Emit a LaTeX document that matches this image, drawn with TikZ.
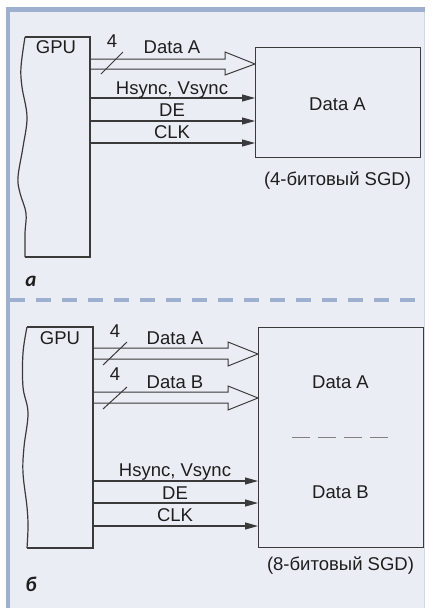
\documentclass[tikz,border=0pt]{standalone}
\usepackage{fontspec}
\setmainfont{Liberation Sans}
\newfontfamily\labfont{Carlito}
\usetikzlibrary{arrows.meta}
\definecolor{bg}{HTML}{EAEDF4}
\definecolor{framec}{HTML}{9DB0CF}
\definecolor{ink}{HTML}{3A3A3A}
\definecolor{txt}{HTML}{1E1E1E}
\tikzset{
  lbl/.style={font=\fontsize{18.5}{22}\selectfont, text=txt, inner sep=0pt, anchor=base},
  sgdbox/.style={draw=ink, line width=1.2pt, inner sep=0pt, anchor=north west},
  sig/.style={draw=ink, line width=1.1pt, -{Triangle[length=13pt,width=7pt]}},
  bus/.style={draw=ink, line width=1pt, line join=miter},
  slashline/.style={draw=ink, line width=1pt},
  gpubody/.style={draw=ink, line width=1.2pt, line join=miter},
  panellbl/.style={font=\labfont\bfseries\itshape\fontsize{21}{24}\selectfont, text=txt, anchor=base, inner sep=0pt},
  sepline/.style={draw=framec, line width=4.5pt, dash pattern=on 15pt off 11pt},
  innerdash/.style={draw=gray, line width=1pt, dash pattern=on 18pt off 8pt},
}
\begin{document}
\begin{tikzpicture}[x=1pt,y=-1pt]
\useasboundingbox (0,0) rectangle (432,608);
\fill[white] (0,0) rectangle (432,608);
\fill[bg] (6,7) rectangle (425,608);
\fill[framec] (6,7) rectangle (10,608);
\fill[framec] (6,7) rectangle (425,12);
\draw[framec!50, line width=1pt] (424.5,12) -- (424.5,608);

% ---------- panel a ----------
\coordinate (g1nw) at (25,37);
\coordinate (g1ne) at (90,37);
\coordinate (g1se) at (90,257);
\coordinate (g1sw) at (25,257);
\draw[gpubody] (g1nw) -- (g1ne) -- (g1se) -- (g1sw);
\draw[gpubody] plot[smooth, tension=0.6] coordinates {(25,257) (25,233) (26,213) (20,193) (18,177) (23,147) (27,117) (22,87) (21,67) (25,37)};
\node[lbl] (gpu1) at (56,53) {GPU};
\node[sgdbox, minimum width=165pt, minimum height=110pt] (sgd1) at (255,47) {};

\draw[bus] (g1ne |- 0,59) -- (225,59) -- (225,52) -- (sgd1.west |- 0,64) -- (225,75) -- (225,69) -- (g1ne |- 0,69);
\draw[slashline] (101,74) -- (123,52);
\node[lbl] (n1) at (112,47) {4};
\node[lbl] (da1) at (172,53) {Data A};

\draw[sig] (g1ne |- 0,98) -- (sgd1.west |- 0,98);
\draw[sig] (g1ne |- 0,121) -- (sgd1.west |- 0,121);
\draw[sig] (g1ne |- 0,143) -- (sgd1.west |- 0,143);
\node[lbl] (hs1) at (172,94) {Hsync, Vsync};
\node[lbl] (de1) at (172,116) {DE};
\node[lbl] (clk1) at (172,138) {CLK};

\node[lbl] (bda1) at (337.5,110) {Data A};
\node[lbl] (cap1) at (337.5,185) {(4-битовый SGD)};
\node[panellbl] (pa) at (31,286) {а};

% separator
\draw[sepline] (10,300) -- (425,300);

% ---------- panel b ----------
\coordinate (g2nw) at (27,327);
\coordinate (g2ne) at (93,327);
\coordinate (g2se) at (93,548);
\coordinate (g2sw) at (27,548);
\draw[gpubody] (g2nw) -- (g2ne) -- (g2se) -- (g2sw);
\draw[gpubody] plot[smooth, tension=0.6] coordinates {(27,548) (28,527) (27,507) (23,473) (24,447) (28,413) (23,387) (23,353) (27,327)};
\node[lbl] (gpu2) at (60,344) {GPU};
\node[sgdbox, minimum width=165pt, minimum height=220pt] (sgd2) at (258,327) {};

\draw[bus] (g2ne |- 0,348) -- (228,348) -- (228,342) -- (sgd2.west |- 0,354) -- (228,366) -- (228,359) -- (g2ne |- 0,359);
\draw[slashline] (103,365) -- (127,342);
\node[lbl] (n2) at (115,337) {4};
\node[lbl] (da2) at (175,344) {Data A};

\draw[bus] (g2ne |- 0,392) -- (228,392) -- (228,386) -- (sgd2.west |- 0,398) -- (228,410) -- (228,403) -- (g2ne |- 0,403);
\draw[slashline] (103,409) -- (127,387);
\node[lbl] (n3) at (115,380) {4};
\node[lbl] (db2) at (175,388) {Data B};

\draw[sig] (g2ne |- 0,481) -- (sgd2.west |- 0,481);
\draw[sig] (g2ne |- 0,503) -- (sgd2.west |- 0,503);
\draw[sig] (g2ne |- 0,526) -- (sgd2.west |- 0,526);
\node[lbl] (hs2) at (175,476) {Hsync, Vsync};
\node[lbl] (de2) at (175,499) {DE};
\node[lbl] (clk2) at (175,521) {CLK};

\node[lbl] (bda2) at (340.5,388) {Data A};
\coordinate (dl) at (292,437);
\coordinate (dr) at (388,437);
\draw[innerdash] (dl) -- (dr);
\node[lbl] (bdb2) at (340.5,498) {Data B};
\node[lbl] (cap2) at (340.5,570) {(8-битовый SGD)};
\node[panellbl] (pb) at (31,591) {б};
\end{tikzpicture}
\end{document}
